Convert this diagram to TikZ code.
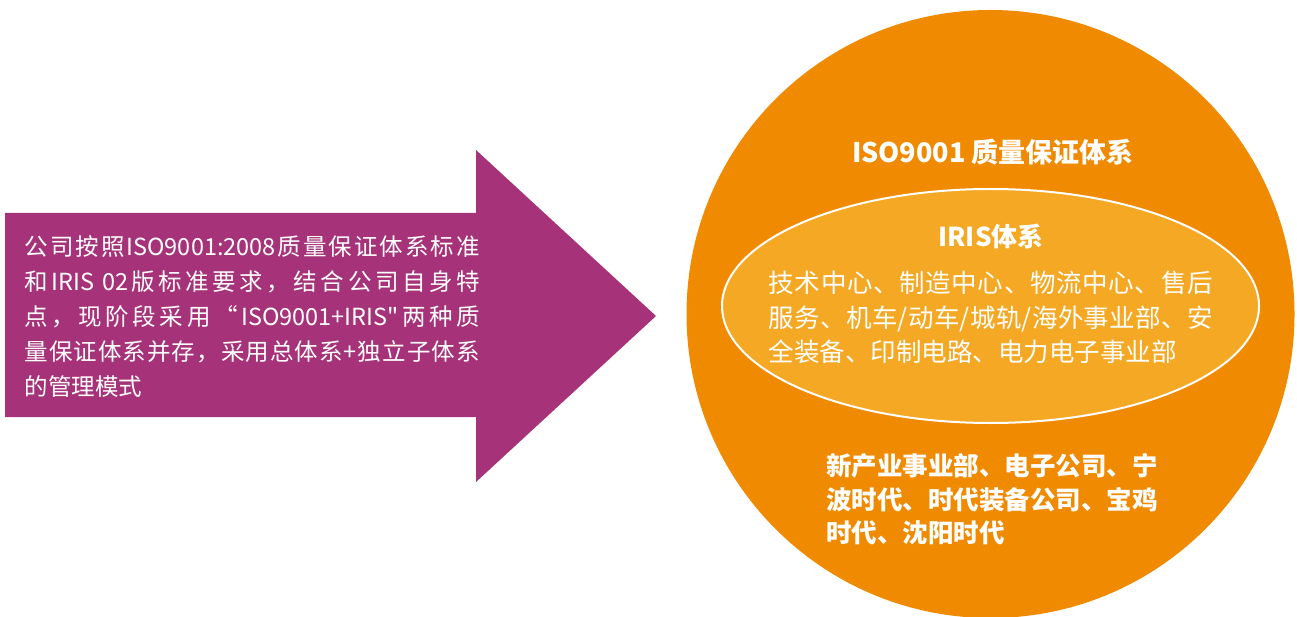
\documentclass[tikz,border=0pt]{standalone}
\usepackage{fontspec}
\setmainfont{Noto Sans CJK SC}[Ligatures=TeXOff]
\usetikzlibrary{shapes.geometric}
\definecolor{arrowpurple}{RGB}{166,51,121}
\definecolor{circorange}{RGB}{240,138,0}
\definecolor{ellorange}{RGB}{245,168,35}
\newcount\cjkcc
\cjkcc="4E00
\loop\ifnum\cjkcc<"A000 \XeTeXcharclass\cjkcc=1 \advance\cjkcc by 1 \repeat
\XeTeXcharclass"3001=1
\XeTeXcharclass"FF0C=1
\XeTeXcharclass"201C=1
\XeTeXinterchartokenstate=1
\newcommand\cjkglue{\hskip 0pt plus 4pt\relax}
\XeTeXinterchartoks 1 1 = {\cjkglue}
\XeTeXinterchartoks 1 0 = {\cjkglue}
\XeTeXinterchartoks 0 1 = {\cjkglue}
\newcommand\jline[2]{\hbox to #1{#2}}
\begin{document}
\begin{tikzpicture}[x=1pt,y=-1pt,
  lefttxt/.style={anchor=base west,inner sep=0pt,text=white,font=\fontsize{23.5pt}{28pt}\selectfont},
  elltxt/.style={anchor=base west,inner sep=0pt,text=white,font=\fontsize{25.5pt}{30pt}\selectfont},
  boldtxt/.style={anchor=base west,inner sep=0pt,text=white,font=\bfseries\fontsize{25.5pt}{30pt}\selectfont},
  headtxt/.style={anchor=base,inner sep=0pt,text=white,font=\bfseries\fontsize{27pt}{32pt}\selectfont}]
\useasboundingbox (0,0) rectangle (1297,617);
\clip (0,0) rectangle (1297,617);
% arrow
\fill[arrowpurple] (5,213) -- (476,213) -- (476,150) -- (656,316) -- (476,482) -- (476,417) -- (5,417) -- cycle;
\node[lefttxt] (l1) at (24.5,255.6) {\jline{455pt}{公司按照ISO9001:2008质量保证体系标准}};
\node[lefttxt] (l2) at (24.5,290.6) {\jline{455pt}{和IRIS 02版标准要求，结合公司自身特}};
\node[lefttxt] (l3) at (24.5,325.6) {\jline{455pt}{点，现阶段采用“ISO9001+IRIS"两种质}};
\node[lefttxt] (l4) at (24.5,360.6) {\jline{455pt}{量保证体系并存，采用总体系+独立子体系}};
\node[lefttxt] (l5) at (24.5,395.6) {的管理模式};
% circle
\node[circle,fill=circorange,minimum size=608pt,inner sep=0pt] (outer) at (990.5,314) {};
\node[ellipse,fill=ellorange,draw=white,line width=2pt,minimum width=537pt,minimum height=234pt,inner sep=0pt] (inner) at (990.5,306) {};
\node[headtxt] (head) at (993,162.3) {ISO9001 质量保证体系};
\node[headtxt,font=\bfseries\fontsize{26pt}{31pt}\selectfont] (iris) at (991,246.6) {IRIS体系};
\node[elltxt] (e1) at (768.5,293) {\jline{444pt}{技术中心、制造中心、物流中心、售后}};
\node[elltxt] (e2) at (768.5,327.7) {\jline{444pt}{服务、机车/动车/城轨/海外事业部、安}};
\node[elltxt] (e3) at (768.5,361.7) {全装备、印制电路、电力电子事业部};
\node[boldtxt] (b1) at (826,475.7) {新产业事业部、电子公司、宁};
\node[boldtxt] (b2) at (826,509.7) {波时代、时代装备公司、宝鸡};
\node[boldtxt] (b3) at (826,542.7) {时代、沈阳时代};
\end{tikzpicture}
\end{document}
